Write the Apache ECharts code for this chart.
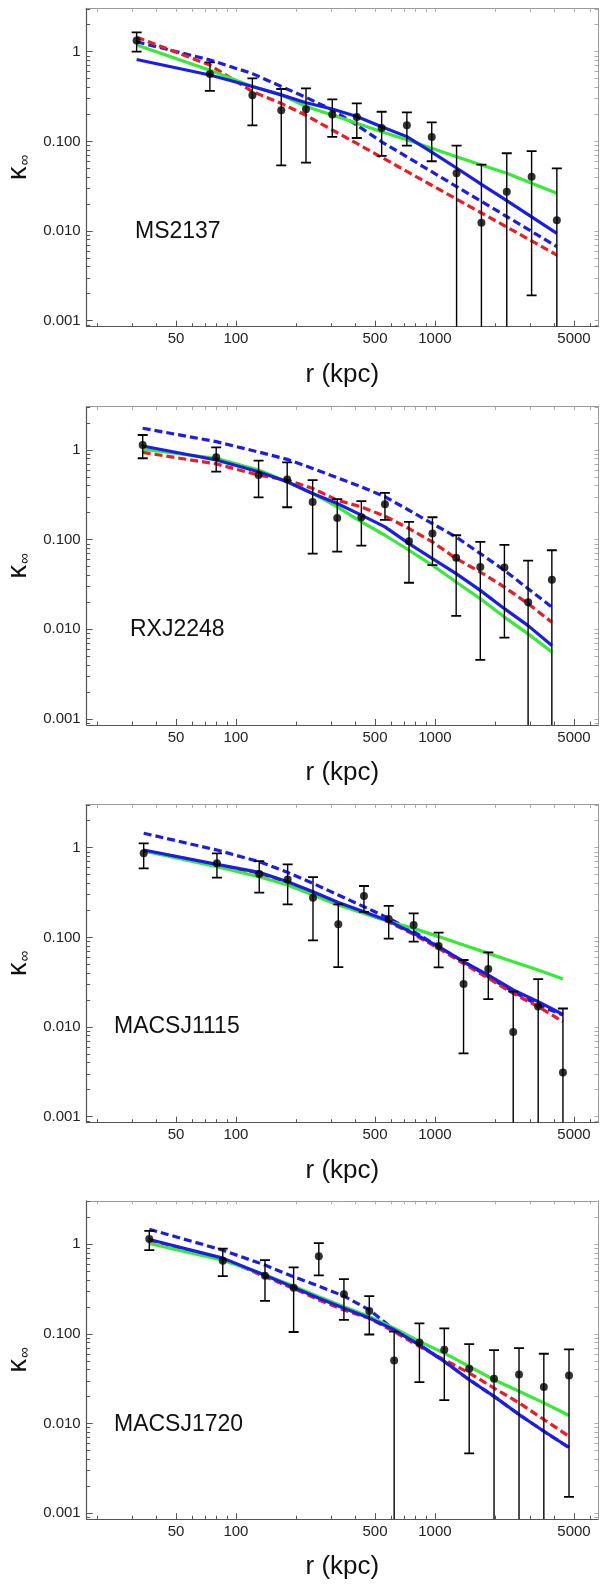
<!DOCTYPE html>
<html>
<head>
<meta charset="utf-8">
<script src="https://cdn.jsdelivr.net/npm/echarts@6/dist/echarts.min.js"></script>
<style>html,body{margin:0;padding:0;background:#fff}#c{width:600px;height:1587px}</style>
</head>
<body>
<div id="c"></div>
<script>
// ---------- data ----------
const panelNames = ['MS2137', 'RXJ2248', 'MACSJ1115', 'MACSJ1720'];
const xTickLabels = [50, 100, 500, 1000, 5000];
const yTickLabels = ['0.001', '0.010', '0.100', '1'];
const yTickValues = [0.001, 0.01, 0.1, 1];
// 0 in a "lo" array means the error bar runs off the bottom of the plot

// MS2137
const r1  = [31.7, 74, 121, 169, 225, 305, 405, 540, 723, 964, 1285, 1713, 2297, 3062, 4100];
const k1  = [1.33, 0.564, 0.327, 0.222, 0.228, 0.200, 0.187, 0.141, 0.151, 0.112, 0.044, 0.0124, 0.0275, 0.0404, 0.0132];
const hi1 = [1.64, 0.76, 0.505, 0.384, 0.39, 0.294, 0.266, 0.214, 0.211, 0.163, 0.0895, 0.055, 0.0737, 0.078, 0.050];
const lo1 = [1.0, 0.365, 0.151, 0.054, 0.058, 0.112, 0.109, 0.069, 0.0895, 0.060, 0, 0, 0, 0.00192, 0];
const blueSolid1  = [0.82, 0.55, 0.41, 0.33, 0.27, 0.23, 0.189, 0.146, 0.113, 0.076, 0.0505, 0.0332, 0.0218, 0.0144, 0.0094];
const blueDashed1 = [1.29, 0.81, 0.57, 0.41, 0.31, 0.224, 0.152, 0.099, 0.0673, 0.0459, 0.0313, 0.0214, 0.0145, 0.0099, 0.0067];
const redDashed1  = [1.45, 0.71, 0.36, 0.265, 0.195, 0.134, 0.0948, 0.0664, 0.0462, 0.0324, 0.0227, 0.0159, 0.0111, 0.00776, 0.0054];
const green1      = [1.19, 0.62, 0.41, 0.33, 0.245, 0.197, 0.159, 0.128, 0.104, 0.0838, 0.0675, 0.0546, 0.044, 0.0341, 0.0264];

// RXJ2248
const r2  = [34.0, 79.6, 130, 181, 243, 323, 427, 561, 741, 972, 1279, 1691, 2235, 2940, 3870];
const k2  = [1.14, 0.83, 0.525, 0.47, 0.264, 0.175, 0.178, 0.249, 0.096, 0.117, 0.063, 0.0496, 0.0488, 0.0201, 0.0358];
const hi2 = [1.47, 1.07, 0.76, 0.728, 0.462, 0.283, 0.269, 0.333, 0.158, 0.178, 0.112, 0.0944, 0.0874, 0.0584, 0.0762];
const lo2 = [0.81, 0.573, 0.296, 0.23, 0.070, 0.0736, 0.0859, 0.166, 0.0331, 0.052, 0.0141, 0.00456, 0.0081, 0, 0];
const blueSolid2  = [1.11, 0.773, 0.573, 0.443, 0.328, 0.253, 0.188, 0.139, 0.0904, 0.0615, 0.0418, 0.0272, 0.017, 0.011, 0.0066];
const blueDashed2 = [1.75, 1.24, 0.95, 0.787, 0.624, 0.491, 0.389, 0.301, 0.213, 0.151, 0.107, 0.070, 0.0455, 0.0284, 0.0177];
const redDashed2  = [0.94, 0.70, 0.525, 0.462, 0.373, 0.276, 0.232, 0.183, 0.133, 0.0944, 0.0615, 0.0436, 0.0296, 0.0193, 0.012];
const green2      = [1.02, 0.807, 0.597, 0.443, 0.328, 0.232, 0.158, 0.112, 0.0762, 0.0518, 0.0337, 0.0219, 0.0137, 0.0089, 0.0056];

// MACSJ1115
const r3  = [34.4, 80.3, 131, 182, 244, 327, 440, 586, 782, 1044, 1393, 1855, 2475, 3304, 4400];
const k3  = [0.865, 0.669, 0.508, 0.443, 0.277, 0.14, 0.289, 0.160, 0.137, 0.080, 0.0302, 0.0443, 0.0088, 0.0169, 0.00312];
const hi3 = [1.12, 0.865, 0.71, 0.652, 0.471, 0.233, 0.374, 0.225, 0.185, 0.113, 0.0559, 0.068, 0.0248, 0.0343, 0.0161];
const lo3 = [0.589, 0.463, 0.315, 0.233, 0.0926, 0.0467, 0.193, 0.0966, 0.0895, 0.0463, 0.00508, 0.0205, 0, 0, 0];
const blueSolid3  = [0.942, 0.652, 0.531, 0.418, 0.323, 0.245, 0.193, 0.152, 0.111, 0.0787, 0.0535, 0.038, 0.0259, 0.0192, 0.0138];
const blueDashed3 = [1.45, 0.942, 0.698, 0.531, 0.40, 0.297, 0.22, 0.163, 0.116, 0.0787, 0.0535, 0.0364, 0.0248, 0.0176, 0.0136];
const redDashed3  = [0.93, 0.645, 0.52, 0.41, 0.318, 0.24, 0.19, 0.148, 0.108, 0.0754, 0.051, 0.035, 0.0237, 0.0169, 0.0115];
const green3      = [0.918, 0.614, 0.475, 0.384, 0.297, 0.23, 0.185, 0.15, 0.126, 0.102, 0.082, 0.0663, 0.0535, 0.0432, 0.0343];

// MACSJ1720
const r4  = [36.7, 85.9, 140, 195, 261, 349, 468, 624, 836, 1115, 1487, 1982, 2647, 3527, 4720];
const k4  = [1.14, 0.653, 0.445, 0.327, 0.736, 0.276, 0.180, 0.0506, 0.0801, 0.0664, 0.0408, 0.0316, 0.0353, 0.0255, 0.0344];
const hi4 = [1.41, 0.895, 0.664, 0.551, 1.03, 0.408, 0.264, 0.106, 0.131, 0.115, 0.0768, 0.0659, 0.0693, 0.06, 0.067];
const lo4 = [0.858, 0.441, 0.233, 0.105, 0.449, 0.143, 0.0984, 0, 0.029, 0.0182, 0.00464, 0, 0, 0, 0.00152];
const blueSolid4  = [1.13, 0.70, 0.45, 0.33, 0.25, 0.193, 0.150, 0.111, 0.0755, 0.0493, 0.0308, 0.0201, 0.0126, 0.0082, 0.0054];
const blueDashed4 = [1.47, 0.858, 0.585, 0.434, 0.341, 0.264, 0.185, 0.111, 0.0755, 0.0493, 0.0308, 0.0201, 0.0126, 0.0082, 0.0054];
const redDashed4  = [1.11, 0.693, 0.434, 0.321, 0.239, 0.185, 0.149, 0.106, 0.0723, 0.0514, 0.0366, 0.0249, 0.017, 0.0111, 0.0072];
const green4      = [1.02, 0.664, 0.453, 0.341, 0.26, 0.201, 0.156, 0.116, 0.0822, 0.061, 0.0434, 0.0308, 0.0229, 0.017, 0.0123];

// ---------- layout / style ----------
const FONT = '"Liberation Sans", Arial, sans-serif';
const X_MIN = 17.79, X_MAX = 6601, Y_MIN = 0.000857, Y_MAX = 3.05;
const panelTop = [8.3, 406.6, 804.3, 1200.8];
const plotH = 318.4;
const labelPos = [[135, 231.5], [130, 630], [114, 1026.5], [114, 1425]];
const C_BLUE = '#1c1ce8', C_RED = '#ec1c24', C_GREEN = '#36ea36';

const panels = [
  {r: r1, k: k1, hi: hi1, lo: lo1, bs: blueSolid1, bd: blueDashed1, rd: redDashed1, g: green1},
  {r: r2, k: k2, hi: hi2, lo: lo2, bs: blueSolid2, bd: blueDashed2, rd: redDashed2, g: green2},
  {r: r3, k: k3, hi: hi3, lo: lo3, bs: blueSolid3, bd: blueDashed3, rd: redDashed3, g: green3},
  {r: r4, k: k4, hi: hi4, lo: lo4, bs: blueSolid4, bd: blueDashed4, rd: redDashed4, g: green4}
];

const xMinor = [20,30,40,60,70,80,90,200,300,400,600,700,800,900,2000,3000,4000,6000];
const xAll = xMinor.concat(xTickLabels);
const yMinor = [];
[0.0001, 0.001, 0.01, 0.1, 1].forEach(d => { for (let m = 2; m <= 9; m++) { const v = +(m * d).toPrecision(3); if (v > Y_MIN && v < Y_MAX) yMinor.push(v); } });
const yAll = yMinor.concat(yTickValues);

const zip = (a, b) => a.map((v, i) => [v, b[i]]);

const grids = [], xAxes = [], yAxes = [], series = [];
panels.forEach((p, g) => {
  grids.push({left: 86.7, right: 2, top: panelTop[g], height: plotH, outerBoundsMode: 'none', containLabel: false});
  const cx = {type: 'log', gridIndex: g, min: X_MIN, max: X_MAX, splitLine: {show: false}, axisPointer: {show: false}};
  const cy = {type: 'log', gridIndex: g, min: Y_MIN, max: Y_MAX, splitLine: {show: false}, axisPointer: {show: false}};
  const xi = xAxes.length, yi = yAxes.length;
  xAxes.push(
    Object.assign({}, cx, {
      position: 'bottom',
      axisLine: {show: true, onZero: false, lineStyle: {color: '#555', width: 1.2}},
      axisTick: {show: true, inside: true, length: 6, customValues: xTickLabels, lineStyle: {color: '#555', width: 1}},
      axisLabel: {show: true, customValues: xTickLabels, formatter: v => String(Math.round(v)), fontSize: 15, color: '#222', margin: 5, fontFamily: FONT},
      name: 'r (kpc)', nameLocation: 'middle', nameGap: 35,
      nameTextStyle: {fontSize: 26, color: '#111', fontFamily: FONT}
    }),
    Object.assign({}, cx, {
      position: 'bottom',
      axisLine: {show: false, onZero: false},
      axisTick: {show: true, inside: true, length: 3.5, customValues: xMinor, lineStyle: {color: '#555', width: 1}},
      axisLabel: {show: false}
    }),
    Object.assign({}, cx, {
      position: 'top',
      axisLine: {show: true, onZero: false, lineStyle: {color: '#999', width: 1}},
      axisTick: {show: true, inside: true, length: 3.5, customValues: xAll, lineStyle: {color: '#aaa', width: 1}},
      axisLabel: {show: false}
    })
  );
  yAxes.push(
    Object.assign({}, cy, {
      position: 'left',
      axisLine: {show: true, onZero: false, lineStyle: {color: '#555', width: 1.2}},
      axisTick: {show: true, inside: true, length: 6, customValues: yTickValues, lineStyle: {color: '#555', width: 1}},
      axisLabel: {show: true, customValues: yTickValues,
        formatter: v => { let best = 0; yTickValues.forEach((t, i) => { if (Math.abs(Math.log10(t) - Math.log10(v)) < Math.abs(Math.log10(yTickValues[best]) - Math.log10(v))) best = i; }); return yTickLabels[best]; },
        fontSize: 15, color: '#222', margin: 6, fontFamily: FONT},
      name: '{k|κ}{s|∞}', nameLocation: 'middle', nameGap: 52, nameRotate: 90,
      nameTextStyle: {rich: {
        k: {fontSize: 27, fontFamily: FONT, color: '#111', verticalAlign: 'bottom', lineHeight: 30},
        s: {fontSize: 15, fontFamily: FONT, color: '#111', verticalAlign: 'bottom', lineHeight: 30, padding: [0, 0, 0, 1]}
      }}
    }),
    Object.assign({}, cy, {
      position: 'left',
      axisLine: {show: false, onZero: false},
      axisTick: {show: true, inside: true, length: 3.5, customValues: yMinor, lineStyle: {color: '#555', width: 1}},
      axisLabel: {show: false}
    }),
    Object.assign({}, cy, {
      position: 'right',
      axisLine: {show: true, onZero: false, lineStyle: {color: '#999', width: 1}},
      axisTick: {show: true, inside: true, length: 3.5, customValues: yAll, lineStyle: {color: '#aaa', width: 1}},
      axisLabel: {show: false}
    })
  );
  const lineSeries = (data, color, dashed, z) => ({
    type: 'line', xAxisIndex: xi, yAxisIndex: yi, data: zip(p.r, data),
    symbol: 'none', silent: true, animation: false, z: z,
    lineStyle: {color: color, width: 3.2, type: dashed ? [8, 4] : 'solid', cap: 'butt'}
  });
  series.push(
    lineSeries(p.bd, C_BLUE, true, 2),
    lineSeries(p.rd, C_RED, true, 3),
    lineSeries(p.g, C_GREEN, false, 4),
    lineSeries(p.bs, C_BLUE, false, 5),
    {
      type: 'custom', xAxisIndex: xi, yAxisIndex: yi, z: 6, animation: false, clip: true, silent: true,
      data: p.r.map((x, i) => [x, p.lo[i], p.hi[i]]),
      encode: {x: 0, y: 2},
      renderItem: (params, api) => {
        const cs = params.coordSys;
        const bottom = cs.y + cs.height;
        const x = api.value(0), lo = api.value(1), hi = api.value(2);
        const top = api.coord([x, hi]);
        const px = top[0];
        const yLo = lo > 0 ? api.coord([x, lo])[1] : bottom;
        const w = 5;
        const kids = [
          {type: 'line', shape: {x1: px, y1: top[1], x2: px, y2: Math.min(yLo, bottom)}, style: {stroke: '#000', lineWidth: 1.4}},
          {type: 'line', shape: {x1: px - w, y1: top[1], x2: px + w, y2: top[1]}, style: {stroke: '#000', lineWidth: 1.8}}
        ];
        if (lo > 0) kids.push({type: 'line', shape: {x1: px - w, y1: yLo, x2: px + w, y2: yLo}, style: {stroke: '#000', lineWidth: 1.8}});
        return {type: 'group', children: kids};
      }
    },
    {
      type: 'scatter', xAxisIndex: xi, yAxisIndex: yi, z: 7, animation: false, silent: true,
      data: zip(p.r, p.k), symbol: 'circle', symbolSize: 8, itemStyle: {color: '#000'}
    }
  );
});

const graphic = panelNames.map((n, i) => ({
  type: 'text', x: labelPos[i][0], y: labelPos[i][1], z: 10,
  style: {text: n, fontSize: 23, fontFamily: FONT, fill: '#111', align: 'left', verticalAlign: 'middle'}
}));

const chart = echarts.init(document.getElementById('c'), null, {renderer: 'canvas'});
chart.setOption({
  animation: false,
  backgroundColor: '#fff',
  grid: grids, xAxis: xAxes, yAxis: yAxes, series: series, graphic: graphic
});
</script>
</body>
</html>
